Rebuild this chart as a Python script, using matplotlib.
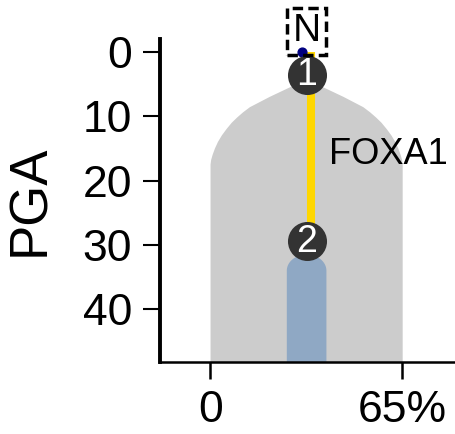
import numpy as np
import matplotlib
matplotlib.use("Agg")
import matplotlib.pyplot as plt

plt.rcParams['font.family'] = ['Liberation Sans', 'DejaVu Sans']

# gray clone outline: depth (PGA) and full width (%) around the trunk centre
centre = 32.6
gray_pga = [4.3, 5.5, 7.0, 8.6, 9.4, 10.2, 11.0, 12.0, 13.0, 14.0, 15.0,
            16.0, 16.8, 17.5, 48.2]
gray_width = [0.0, 11.2, 25.0, 38.4, 43.0, 47.0, 50.6, 54.2, 57.4, 60.0,
              62.0, 63.6, 64.6, 65.0, 65.0]

# blue subclone: width (%), top of its rounded cap and where the sides start
blue_width = 13.4
blue_top = 31.5
blue_shoulder = 34.0

# trunk (FOXA1 branch)
trunk_x = 34.1
trunk_pga = [0.0, 29.4]
node_pga = [3.56, 29.4]
node_labels = ['1', '2']
root_x, root_pga = 31.0, 0.0
branch_label = 'FOXA1'

xticks = [0, 65]
xticklabels = ['0', '65%']
yticks = [0, 10, 20, 30, 40]

fig = plt.figure(figsize=(4.55, 4.34), dpi=100)
ax = fig.add_axes([160 / 455, 1 - 362 / 434, 295 / 455, (362 - 39) / 434])

# gray polygon
gp = np.array(gray_pga)
gw = np.array(gray_width) / 2
xs = np.concatenate([centre - gw, (centre + gw)[::-1]])
ys = np.concatenate([gp, gp[::-1]])
ax.fill(xs, ys, color='#cccccc', lw=0, zorder=1)

# blue region with rounded top
hw = blue_width / 2
t = np.linspace(np.pi, 0, 40)
cap_x = centre + hw * np.cos(t)
cap_y = blue_shoulder - (blue_shoulder - blue_top) * np.sin(t)
bx = np.concatenate([[centre - hw], cap_x, [centre + hw]])
by = np.concatenate([[gray_pga[-1]], cap_y, [gray_pga[-1]]])
ax.fill(bx, by, color='#8fa8c4', lw=0, zorder=2)

ax.plot([trunk_x, trunk_x], trunk_pga, color='#ffd700', lw=5.8,
        solid_capstyle='butt', zorder=3)
ax.scatter([root_x], [root_pga], s=40, color='#000080', zorder=4, clip_on=False)
ax.scatter([centre] * len(node_pga), node_pga, s=790, color='#333333',
           zorder=5, lw=0, clip_on=False)
for p, lab in zip(node_pga, node_labels):
    ax.text(centre, p + 0.1, lab, color='white', fontsize=27, ha='center',
            va='center', zorder=6)

ax.text(centre, -3.2, 'N', fontsize=28, ha='center', va='center',
        clip_on=False, zorder=6,
        bbox=dict(boxstyle='square,pad=0.14', fc='none', ec='black',
                  lw=2.5, ls=(0, (3, 1.5))))

ax.text(40.3, 16.0, branch_label, fontsize=26, ha='left', va='center', zorder=6)

ax.set_xlim(-17, 82.8)
ax.set_ylim(48.2, -2)
ax.set_xticks(xticks)
ax.set_xticklabels(xticklabels)
ax.set_yticks(yticks)
ax.tick_params(axis='both', labelsize=32, length=12, width=1.8, pad=8)
ax.tick_params(axis='y', width=1.5)
ax.spines['top'].set_visible(False)
ax.spines['right'].set_visible(False)
ax.spines['left'].set_linewidth(2.8)
ax.spines['bottom'].set_linewidth(1.8)

fig.text(30 / 455, 1 - 200 / 434, 'PGA', fontsize=38, rotation=90,
         ha='center', va='center')

fig.savefig('out.png', dpi=100)
